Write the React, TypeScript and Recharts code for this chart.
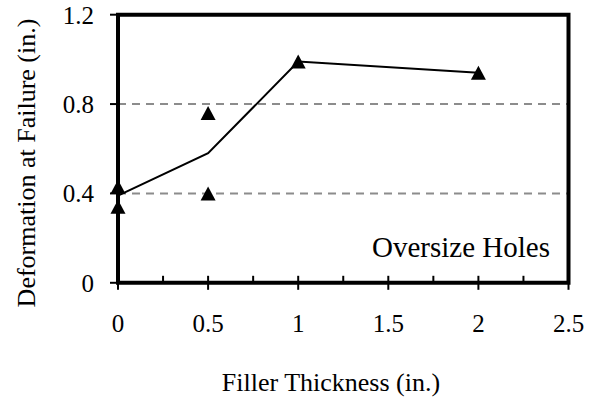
import React from 'react';
import {
  ComposedChart,
  Line,
  Scatter,
  XAxis,
  YAxis,
  CartesianGrid,
  ReferenceArea,
  Label,
} from 'recharts';

// measured specimens (filler thickness vs deformation)
const testThickness = [0, 0, 0.5, 0.5, 1, 2];
const testDeformation = [0.43, 0.34, 0.76, 0.4, 0.99, 0.94];

// mean trend line
const meanThickness = [0, 0.5, 1, 2];
const meanDeformation = [0.39, 0.58, 0.99, 0.94];

const xTicks = [0, 0.25, 0.5, 0.75, 1, 1.25, 1.5, 1.75, 2, 2.25, 2.5];
const yTicks = [0, 0.4, 0.8, 1.2];

const FONT = 'Liberation Serif';
const textStyle = { fontFamily: FONT };

const points = testThickness.map((x, i) => ({ x, y: testDeformation[i] }));
const mean = meanThickness.map((x, i) => ({ x, y: meanDeformation[i] }));

const Triangle = (props: any) => {
  const { cx, cy } = props;
  if (cx == null || cy == null) return null;
  return <path d={`M${cx},${cy - 7} L${cx + 7.5},${cy + 7} L${cx - 7.5},${cy + 7} Z`} fill="#000" />;
};

const XTick = (props: any) => {
  const { x, y, payload } = props;
  const v = payload.value as number;
  const major = Math.abs(v * 2 - Math.round(v * 2)) < 1e-6;
  return (
    <g>
      <line x1={x} x2={x} y1={y - 7} y2={major ? y + 7 : y} stroke="#000" strokeWidth={2} />
      {major && (
        <text x={x} y={y + 49} textAnchor="middle" fontSize={25} style={textStyle} fill="#000">
          {v}
        </text>
      )}
    </g>
  );
};

export default function App() {
  return (
    <div style={{ width: 595, height: 401, fontFamily: FONT }}>
      <style>{'body{margin:0}'}</style>
      <ComposedChart
        width={595}
        height={401}
        margin={{ top: 14.7, right: 26.5, bottom: 18.2, left: 38 }}
        style={textStyle}
      >
        <CartesianGrid vertical={false} stroke="#8c8c8c" strokeWidth={2} strokeDasharray="8 6" />
        <XAxis
          dataKey="x"
          type="number"
          domain={[0, 2.5]}
          ticks={xTicks}
          interval={0}
          height={100}
          axisLine={false}
          tickLine={false}
          tickSize={0}
          tickMargin={0}
          tick={<XTick />}
        >
          <Label
            content={() => (
              <text x={331} y={391} textAnchor="middle" fontSize={26} style={textStyle} fill="#000">
                Filler Thickness (in.)
              </text>
            )}
          />
        </XAxis>
        <YAxis
          type="number"
          domain={[0, 1.2]}
          ticks={yTicks}
          width={80}
          axisLine={false}
          tickLine={{ stroke: '#000', strokeWidth: 2 }}
          tickSize={8}
          tickMargin={16}
          tick={{ fontSize: 25, fill: '#000', style: textStyle }}
        >
          <Label
            content={() => (
              <g>
                <text
                  x={35}
                  y={163}
                  transform="rotate(-90, 35, 163)"
                  textAnchor="middle"
                  fontSize={26}
                  style={textStyle}
                  fill="#000"
                >
                  Deformation at Failure (in.)
                </text>
                <text x={372} y={257} fontSize={29} style={textStyle} fill="#000">
                  Oversize Holes
                </text>
              </g>
            )}
          />
        </YAxis>
        <Line
          data={mean}
          dataKey="y"
          stroke="#000"
          strokeWidth={2}
          dot={false}
          activeDot={false}
          isAnimationActive={false}
        />
        <Scatter data={points} dataKey="y" shape={<Triangle />} isAnimationActive={false} />
        <ReferenceArea x1={0} x2={2.5} y1={0} y2={1.2} fill="none" stroke="#000" strokeWidth={4} />
      </ComposedChart>
    </div>
  );
}
